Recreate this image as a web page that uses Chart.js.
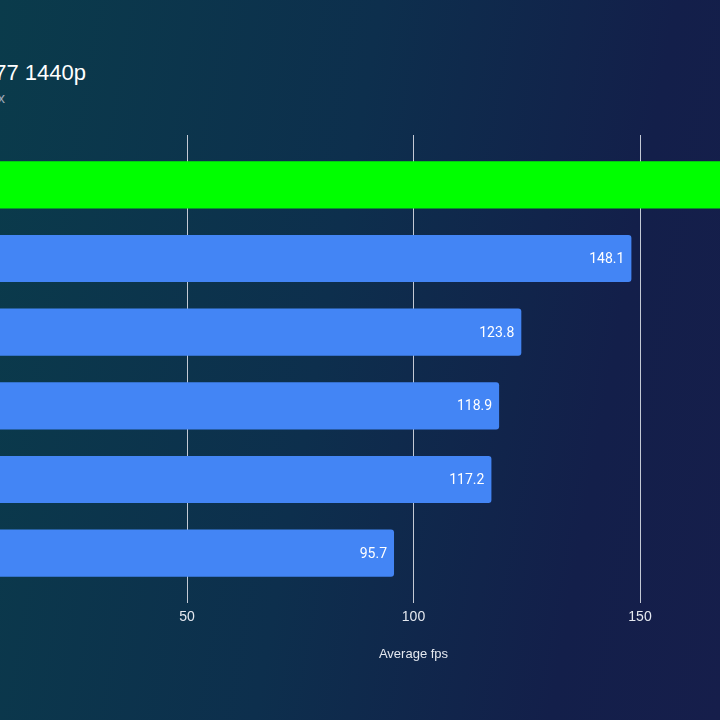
<!DOCTYPE html>
<html>
<head>
<meta charset="utf-8">
<script src="https://cdn.jsdelivr.net/npm/chart.js@4.4.0/dist/chart.umd.min.js"></script>
<style>
    html, body {
        margin: 0;
        padding: 0;
    }
    body {
        width: 720px;
        height: 720px;
        position: relative;
        overflow: hidden;
        background: linear-gradient(100deg, #0a3b4b 0%, #0d2f4d 45%, #131f4a 80%, #161e4b 100%);
        font-family: "Liberation Sans", Arial, sans-serif;
    }
    .title {
        position: absolute;
        right: 634px;
        top: 60px;
        white-space: nowrap;
        color: #ffffff;
        font-size: 22px;
    }
    .subtitle {
        position: absolute;
        right: 715px;
        top: 89px;
        white-space: nowrap;
        color: #9ba6b6;
        font-size: 15px;
    }
    #wrap {
        position: absolute;
        left: -240px;
        top: 0;
        width: 1130px;
        height: 720px;
    }
</style>
</head>
<body>
<div class="title">Cyberpunk 2077 1440p</div>
<div class="subtitle">Ray tracing: Ultra, DLSS: Off, Frame Gen: 2x</div>
<div id="wrap"><canvas id="chart" width="1130" height="720"></canvas></div>

<script>
// GPU results, top to bottom
const gpus = ['RTX 5090', 'RTX 4090', 'RTX 5080', 'RTX 4080 Super', 'RX 7900 XTX', 'RTX 5070 Ti'];
const avgFps = [183.4, 148.1, 123.8, 118.9, 117.2, 95.7];
const barColors = ['#00ff00', '#4385f5', '#4385f5', '#4385f5', '#4385f5', '#4385f5'];
const xTicks = [0, 50, 100, 150, 200];

const gridColor = '#c3c9d4';
const textColor = '#e4e8ef';

// value labels inside the end of each bar
const valueLabels = {
    id: 'valueLabels',
    afterDatasetsDraw(chart) {
        const ctx = chart.ctx;
        const meta = chart.getDatasetMeta(0);
        ctx.save();
        ctx.font = '14px Roboto, sans-serif';
        ctx.textAlign = 'right';
        ctx.textBaseline = 'middle';
        meta.data.forEach((bar, i) => {
            ctx.fillStyle = i === 0 ? '#0b2a1a' : '#ffffff';
            ctx.fillText(avgFps[i].toFixed(1), bar.x - 7, bar.y + 1);
        });
        ctx.restore();
    }
};

new Chart(document.getElementById('chart'), {
    type: 'bar',
    data: {
        labels: gpus,
        datasets: [{
            label: 'Average fps',
            data: avgFps,
            backgroundColor: barColors,
            borderRadius: 3,
            borderSkipped: 'start',
            categoryPercentage: 1,
            barPercentage: 0.64
        }]
    },
    options: {
        indexAxis: 'y',
        responsive: false,
        animation: false,
        layout: {
            padding: { left: 10, right: 23.5, top: 135, bottom: 53.6 }
        },
        plugins: {
            legend: { display: false },
            tooltip: { enabled: false }
        },
        scales: {
            x: {
                min: xTicks[0],
                max: xTicks[xTicks.length - 1],
                afterBuildTicks: scale => {
                    scale.ticks = xTicks.map(v => ({ value: v }));
                },
                border: { display: false },
                grid: {
                    color: gridColor,
                    lineWidth: 1,
                    drawTicks: true,
                    tickLength: 13
                },
                ticks: {
                    color: textColor,
                    padding: 6,
                    font: { family: 'Liberation Sans', size: 14 }
                },
                title: {
                    display: true,
                    text: 'Average fps',
                    color: textColor,
                    font: { family: 'Liberation Sans', size: 13 },
                    padding: { top: 15, bottom: 4 }
                }
            },
            x2: {
                axis: 'x',
                type: 'linear',
                position: 'top',
                min: xTicks[0],
                max: xTicks[xTicks.length - 1],
                afterBuildTicks: scale => {
                    scale.ticks = xTicks.map(v => ({ value: v }));
                },
                border: { display: false },
                grid: {
                    color: gridColor,
                    lineWidth: 1,
                    drawOnChartArea: false,
                    drawTicks: true,
                    tickLength: 13
                },
                ticks: { display: false }
            },
            y: {
                border: { display: false },
                grid: { display: false },
                afterFit: scale => {
                    scale.width = 190.5;
                },
                ticks: {
                    color: textColor,
                    font: { family: 'Liberation Sans', size: 14 }
                }
            }
        }
    },
    plugins: [valueLabels]
});
</script>
</body>
</html>
